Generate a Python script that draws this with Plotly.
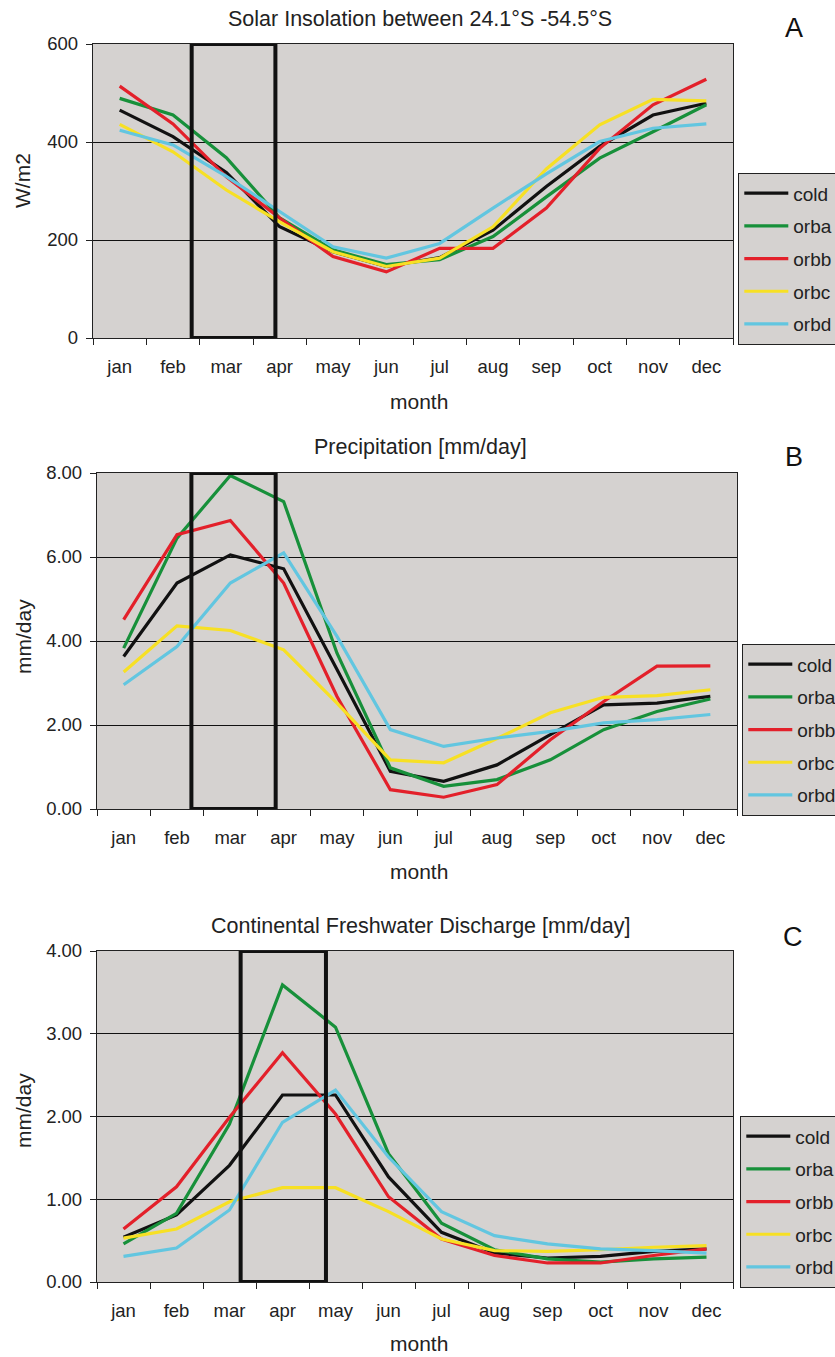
import plotly.graph_objects as go

W, H = 835, 1357

months = ['jan', 'feb', 'mar', 'apr', 'may', 'jun', 'jul', 'aug', 'sep', 'oct', 'nov', 'dec']
runs = ['cold', 'orba', 'orbb', 'orbc', 'orbd']

insolation_cold = [465, 411, 338, 227, 176, 146, 164, 220, 309, 391, 455, 479]
insolation_orba = [489, 455, 368, 245, 180, 150, 160, 207, 288, 367, 421, 476]
insolation_orbb = [514, 437, 329, 245, 166, 135, 183, 183, 265, 387, 476, 528]
insolation_orbc = [436, 380, 302, 237, 176, 146, 163, 227, 345, 435, 487, 484]
insolation_orbd = [424, 394, 330, 258, 186, 163, 193, 265, 335, 401, 428, 437]

precip_cold = [3.63, 5.38, 6.05, 5.72, 3.32, 0.90, 0.66, 1.05, 1.77, 2.48, 2.52, 2.68]
precip_orba = [3.83, 6.45, 7.94, 7.32, 3.71, 0.98, 0.54, 0.70, 1.17, 1.89, 2.32, 2.62]
precip_orbb = [4.51, 6.53, 6.87, 5.38, 2.68, 0.46, 0.28, 0.58, 1.65, 2.56, 3.40, 3.41]
precip_orbc = [3.26, 4.36, 4.25, 3.79, 2.52, 1.17, 1.10, 1.68, 2.29, 2.66, 2.70, 2.84]
precip_orbd = [2.96, 3.87, 5.38, 6.10, 4.11, 1.89, 1.49, 1.69, 1.85, 2.05, 2.13, 2.25]

discharge_cold = [0.54, 0.81, 1.41, 2.26, 2.26, 1.27, 0.60, 0.35, 0.29, 0.31, 0.37, 0.40]
discharge_orba = [0.46, 0.83, 1.91, 3.59, 3.08, 1.55, 0.71, 0.39, 0.28, 0.24, 0.28, 0.30]
discharge_orbb = [0.64, 1.15, 1.99, 2.77, 2.03, 1.03, 0.52, 0.32, 0.23, 0.23, 0.32, 0.40]
discharge_orbc = [0.53, 0.64, 0.97, 1.14, 1.14, 0.85, 0.52, 0.38, 0.37, 0.39, 0.42, 0.44]
discharge_orbd = [0.31, 0.41, 0.87, 1.93, 2.32, 1.51, 0.85, 0.56, 0.46, 0.40, 0.38, 0.35]

colors = {'cold': '#111111', 'orba': '#17903a', 'orbb': '#e3202a',
          'orbc': '#f7e024', 'orbd': '#62c6e0'}
BG = '#d5d2d0'
FONT = 'Liberation Sans, Arial, sans-serif'

panels = [
    dict(title='Solar Insolation between 24.1°S -54.5°S', letter='A', ytitle='W/m2',
         data=[insolation_cold, insolation_orba, insolation_orbb, insolation_orbc, insolation_orbd],
         yrange=[0, 600], dtick=200, fmt='d',
         px=(93, 733), py=(44, 338), box=(1.35, 2.92),
         title_y=18.5, letter_xy=(794, 28), month_y=401, ytitle_xy=(22, 181),
         legend_xy=(738, 173)),
    dict(title='Precipitation [mm/day]', letter='B', ytitle='mm/day',
         data=[precip_cold, precip_orba, precip_orbb, precip_orbc, precip_orbd],
         yrange=[0, 8], dtick=2, fmt='.2f',
         px=(97, 737), py=(473, 809), box=(1.27, 2.85),
         title_y=447, letter_xy=(794, 457), month_y=872, ytitle_xy=(23, 637),
         legend_xy=(742, 644)),
    dict(title='Continental Freshwater Discharge [mm/day]', letter='C', ytitle='mm/day',
         data=[discharge_cold, discharge_orba, discharge_orbb, discharge_orbc, discharge_orbd],
         yrange=[0, 4], dtick=1, fmt='.2f',
         px=(97, 733), py=(951, 1282), box=(2.21, 3.82),
         title_y=926, letter_xy=(793, 937), month_y=1343, ytitle_xy=(23, 1111),
         legend_xy=(740, 1116)),
]

fig = go.Figure()
layout = dict(width=W, height=H, margin=dict(l=0, r=0, t=0, b=0, autoexpand=False),
              paper_bgcolor='white', plot_bgcolor=BG,
              font=dict(family=FONT, size=18, color='#222'), showlegend=True)
annotations = []
shapes = []

for i, p in enumerate(panels):
    k = '' if i == 0 else str(i + 1)
    xa, ya = 'x' + k, 'y' + k
    leg = 'legend' + k
    for name, vals in zip(runs, p['data']):
        fig.add_trace(go.Scatter(x=months, y=vals, name=name, mode='lines',
                                 line=dict(color=colors[name], width=3.2),
                                 xaxis=xa, yaxis=ya, legend=leg,
                                 legendgroup=f'{name}{i}', hoverinfo='skip'))
    layout['xaxis' + k] = dict(domain=[p['px'][0] / W, p['px'][1] / W], anchor=ya,
                               type='category', categoryorder='array', categoryarray=months,
                               range=[-0.5, 11.5], tickson='boundaries', ticks='outside',
                               ticklen=6, tickwidth=1.3, tickcolor='#222',
                               showline=True, linecolor='#222', linewidth=1.3, mirror=True,
                               showgrid=False, zeroline=False, ticklabelstandoff=12,
                               tickfont=dict(size=18.5, color='#222'))
    layout['yaxis' + k] = dict(domain=[1 - p['py'][1] / H, 1 - p['py'][0] / H], anchor=xa,
                               range=p['yrange'], dtick=p['dtick'], tickformat=p['fmt'],
                               ticks='outside', ticklen=6, tickwidth=1.3, tickcolor='#222',
                               showline=True, linecolor='#222', linewidth=1.3, mirror=True,
                               showgrid=True, gridcolor='#111', gridwidth=1.2, zeroline=False,
                               ticklabelstandoff=4, tickfont=dict(size=18.5, color='#222'))
    layout[leg] = dict(x=p['legend_xy'][0] / W, y=1 - p['legend_xy'][1] / H,
                       xanchor='left', yanchor='top', bgcolor=BG, bordercolor='#222',
                       borderwidth=1.3, font=dict(size=19, color='#222'),
                       tracegroupgap=5, traceorder='grouped', itemwidth=44)
    shapes.append(dict(type='rect', xref=xa, yref=ya, x0=p['box'][0], x1=p['box'][1],
                       y0=p['yrange'][0], y1=p['yrange'][1],
                       line=dict(color='#111', width=4), fillcolor='rgba(0,0,0,0)'))
    annotations += [
        dict(text=p['title'], x=420 / W, y=1 - p['title_y'] / H, xref='paper', yref='paper',
             xanchor='center', yanchor='middle', showarrow=False,
             font=dict(size=21.5, color='#222')),
        dict(text=p['letter'], x=p['letter_xy'][0] / W, y=1 - p['letter_xy'][1] / H,
             xref='paper', yref='paper', xanchor='center', yanchor='middle',
             showarrow=False, font=dict(size=27, color='#111')),
        dict(text='month', x=419 / W, y=1 - p['month_y'] / H, xref='paper', yref='paper',
             xanchor='center', yanchor='middle', showarrow=False,
             font=dict(size=21, color='#222')),
        dict(text=p['ytitle'], x=p['ytitle_xy'][0] / W, y=1 - p['ytitle_xy'][1] / H,
             xref='paper', yref='paper', xanchor='center', yanchor='middle',
             textangle=-90, showarrow=False, font=dict(size=21, color='#222')),
    ]

layout['annotations'] = annotations
layout['shapes'] = shapes
fig.update_layout(**layout)
fig.write_html('out.html')
